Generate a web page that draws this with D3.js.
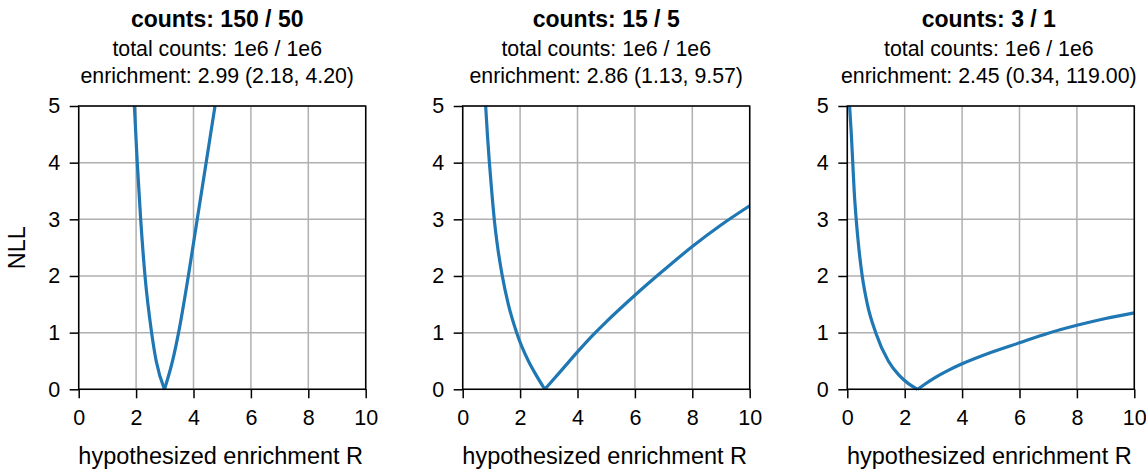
<!DOCTYPE html>
<html>
<head>
<meta charset="utf-8"/>
<title>NLL vs hypothesized enrichment</title>
<script src="https://d3js.org/d3.v7.min.js"></script>
<style>
    body { margin: 0; background: #fff; }
    svg { font-family: "Liberation Sans", Arial, Helvetica, sans-serif; }
    .grid line { stroke: #b0b0b0; stroke-width: 1.5; }
    .spine { fill: none; stroke: #000; stroke-width: 1.5; }
    .nll { fill: none; stroke: #1f77b4; stroke-width: 3.2; stroke-linejoin: round; }
</style>
</head>
<body>
<div id="chart"></div>
<script>
// panel texts
var titles = ["counts: 150 / 50", "counts: 15 / 5", "counts: 3 / 1"];
var totals = ["total counts: 1e6 / 1e6", "total counts: 1e6 / 1e6", "total counts: 1e6 / 1e6"];
var enrich = ["enrichment: 2.99 (2.18, 4.20)", "enrichment: 2.86 (1.13, 9.57)", "enrichment: 2.45 (0.34, 119.00)"];

var xTicks = [0, 2, 4, 6, 8, 10];
var yTicks = [0, 1, 2, 3, 4, 5];

// curves, [R, NLL], left and right of the minimum
var left150 = [[1.94, 5], [2.04, 4], [2.16, 3], [2.31, 2], [2.54, 1], [2.70, 0.5], [2.99, 0]];
var right150 = [[2.99, 0], [3.27, 0.5], [3.48, 1], [3.82, 2], [4.13, 3], [4.44, 4], [4.75, 5]];

var left15 = [[0.80, 5], [0.86, 4.5], [0.93, 4], [1.01, 3.5], [1.10, 3], [1.22, 2.5], [1.38, 2],
              [1.59, 1.5], [1.88, 1], [2.29, 0.5], [2.56, 0.25], [2.86, 0]];
var right15 = [[2.86, 0], [3.0, 0.08], [3.5, 0.37], [4, 0.66], [4.62, 1.0], [5, 1.19], [6, 1.66],
               [7, 2.1], [8, 2.52], [9, 2.9], [10, 3.24]];

var left3 = [[0.08, 5], [0.14, 4.5], [0.19, 4], [0.24, 3.5], [0.31, 3], [0.40, 2.5], [0.52, 2],
             [0.70, 1.5], [0.99, 1], [1.43, 0.5], [1.80, 0.25], [2.13, 0.1], [2.45, 0]];
var right3 = [[2.45, 0], [2.7, 0.09], [3, 0.19], [3.5, 0.33], [4, 0.45], [5, 0.65], [6, 0.82],
              [7, 0.99], [8, 1.13], [9, 1.25], [10, 1.35]];

var curves = [[left150, right150], [left15, right15], [left3, right3]];

var svgW = 1146, svgH = 469;
var panelLeft = [78.7, 462.7, 847.3];
var titleShift = [-5, 0, -2];
var pw = 287, plotTop = 106, plotBottom = 389.3;
var ph = plotBottom - plotTop;

var svg = d3.select("#chart").append("svg")
    .attr("width", svgW)
    .attr("height", svgH);

var x = d3.scaleLinear().domain([0, 10]).range([0, pw]);
var y = d3.scaleLinear().domain([0, 5]).range([ph, 0]);

var line = d3.line()
    .x(function(d){ return x(d[0]); })
    .y(function(d){ return y(d[1]); })
    .curve(d3.curveMonotoneX);

svg.append("defs").append("clipPath")
    .attr("id", "plotclip")
    .append("rect")
    .attr("x", -2).attr("y", -2)
    .attr("width", pw + 4).attr("height", ph + 4);

for (var i = 0; i < 3; i++) {
    var g = svg.append("g").attr("transform", "translate(" + panelLeft[i] + "," + plotTop + ")");
    var cx = pw / 2;
    var tx = cx + titleShift[i];

    // grid
    var grid = g.append("g").attr("class", "grid");
    grid.selectAll(".gx").data(xTicks).enter().append("line")
        .attr("x1", function(d){ return x(d); }).attr("x2", function(d){ return x(d); })
        .attr("y1", 0).attr("y2", ph);
    grid.selectAll(".gy").data(yTicks).enter().append("line")
        .attr("x1", 0).attr("x2", pw)
        .attr("y1", function(d){ return y(d); }).attr("y2", function(d){ return y(d); });

    // curve
    var cg = g.append("g").attr("clip-path", "url(#plotclip)");
    curves[i].forEach(function(branch){
        cg.append("path").attr("class", "nll").attr("d", line(branch));
    });

    // axes
    var xAxis = d3.axisBottom(x).tickValues(xTicks).tickFormat(d3.format("d"))
        .tickSize(9).tickPadding(11);
    var yAxis = d3.axisLeft(y).tickValues(yTicks).tickFormat(d3.format("d"))
        .tickSize(9).tickPadding(9.5);
    var ga = g.append("g").attr("transform", "translate(0," + ph + ")").call(xAxis);
    var gb = g.append("g").call(yAxis);
    [ga, gb].forEach(function(a){
        a.attr("font-size", null).attr("font-family", null);
        a.select(".domain").remove();
        a.selectAll(".tick line").attr("stroke", "#000").attr("stroke-width", 1.5);
        a.selectAll(".tick text").attr("fill", "#000").style("font-size", "21.5px");
    });

    g.append("rect").attr("class", "spine")
        .attr("x", 0).attr("y", 0).attr("width", pw).attr("height", ph);

    // titles
    g.append("text").attr("x", tx).attr("y", 27 - plotTop)
        .attr("text-anchor", "middle")
        .style("font-size", "23px").style("font-weight", "bold")
        .text(titles[i]);
    g.append("text").attr("x", tx).attr("y", 56 - plotTop)
        .attr("text-anchor", "middle").style("font-size", "21.3px")
        .text(totals[i]);
    g.append("text").attr("x", tx).attr("y", 83 - plotTop)
        .attr("text-anchor", "middle").style("font-size", "21.3px")
        .text(enrich[i]);

    // x label
    g.append("text").attr("x", cx - 1.5).attr("y", 464 - plotTop)
        .attr("text-anchor", "middle").style("font-size", "23.5px")
        .text("hypothesized enrichment R");
}

// y label on first panel only
svg.append("text")
    .attr("transform", "translate(25," + (plotTop + ph / 2) + ") rotate(-90)")
    .attr("text-anchor", "middle")
    .style("font-size", "23.5px")
    .text("NLL");
</script>
</body>
</html>
